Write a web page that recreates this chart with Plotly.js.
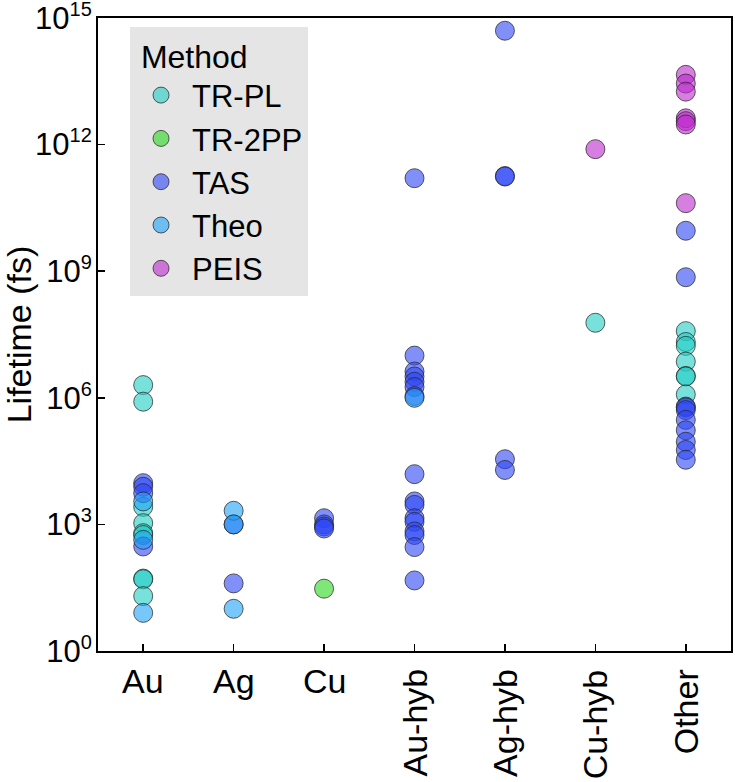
<!DOCTYPE html>
<html>
<head>
<meta charset="utf-8">
<script src="https://cdn.plot.ly/plotly-3.0.1.min.js"></script>
<style>html,body{margin:0;padding:0;background:#fff;}#chart{width:735px;height:782px;}</style>
</head>
<body>
<div id="chart"></div>
<script>
// Categories (x axis)
const categories = ["Au", "Ag", "Cu", "Au-hyb", "Ag-hyb", "Cu-hyb", "Other"];
const rotatedLabels = ["Au-hyb", "Ag-hyb", "Cu-hyb", "Other"];

// Lifetime (fs) per method
const trplX = ["Au","Au","Au","Au","Au","Au","Au","Au","Au","Cu-hyb","Other","Other","Other","Other","Other","Other","Other"];
const trplY = [2.0e6, 8.1e5, 2.6e3, 1.07e3, 620, 560, 52, 50, 20, 6.0e7, 3.8e7, 2.1e7, 1.7e7, 7.2e6, 3.3e6, 3.2e6, 1.2e6];

const tr2ppX = ["Cu"];
const tr2ppY = [30];

const tasX = ["Au","Au","Au","Au","Ag","Ag","Cu","Cu","Cu","Cu",
  "Au-hyb","Au-hyb","Au-hyb","Au-hyb","Au-hyb","Au-hyb","Au-hyb","Au-hyb","Au-hyb","Au-hyb","Au-hyb","Au-hyb","Au-hyb","Au-hyb","Au-hyb","Au-hyb",
  "Ag-hyb","Ag-hyb","Ag-hyb","Ag-hyb","Ag-hyb",
  "Other","Other","Other","Other","Other","Other","Other","Other","Other","Other"];
const tasY = [9.5e3, 7.8e3, 5.5e3, 300, 1.0e3, 40, 1.4e3, 1.0e3, 890, 800,
  1.6e11, 1.0e7, 4.2e6, 3.2e6, 2.4e6, 1.8e6, 1.1e6, 1.55e4, 3.5e3, 2.9e3, 1.4e3, 1.15e3, 680, 560, 290, 47,
  5.0e14, 1.8e11, 1.75e11, 3.5e4, 1.95e4,
  9.1e9, 7.2e8, 6.2e5, 5.9e5, 5.1e5, 3.0e5, 1.7e5, 9.1e4, 5.8e4, 3.4e4];

const theoX = ["Au","Au","Au","Ag","Ag","Ag","Au-hyb"];
const theoY = [3.5e3, 430, 8, 2.1e3, 1.0e3, 10, 1.0e6];

const peisX = ["Cu-hyb","Other","Other","Other","Other","Other","Other","Other"];
const peisY = [7.8e11, 4.5e13, 2.8e13, 1.8e13, 4.2e12, 3.6e12, 3.0e12, 4.1e10];

// Y tick labels
const yTickVals = [1, 1e3, 1e6, 1e9, 1e12, 1e15];
const yTickExp = ["0", "3", "6", "9", "12", "15"];
const yTickText = yTickExp.map(e => "10<sup><span style='font-size:20px'>" + e + "</span></sup>");

const FONT = "Arial, 'Liberation Sans', sans-serif";
const outline = {color: "rgba(40,40,40,0.75)", width: 1};
function series(name, x, y, fill) {
  return {type: "scatter", mode: "markers", name: name, x: x, y: y,
    marker: {size: 19, color: fill, line: outline}, cliponaxis: false};
}
const traces = [
  series("TR-PL", trplX, trplY, "rgba(32,205,197,0.6)"),
  series("TR-2PP", tr2ppX, tr2ppY, "rgba(40,215,30,0.6)"),
  series("TAS", tasX, tasY, "rgba(45,70,245,0.6)"),
  series("Theo", theoX, theoY, "rgba(30,162,247,0.6)"),
  series("PEIS", peisX, peisY, "rgba(188,40,205,0.6)")
];

const annotations = categories.map(c => {
  const rot = rotatedLabels.includes(c);
  return {x: c, xref: "x", y: 0, yref: "paper", yanchor: "top", xanchor: "center",
    yshift: rot ? -16 : -9, text: c, showarrow: false, textangle: rot ? -90 : 0,
    font: {family: FONT, size: 34, color: "#000"}};
});

const layout = {
  width: 735, height: 782,
  margin: {l: 98, r: 4, t: 18, b: 131, pad: 0},
  paper_bgcolor: "#fff", plot_bgcolor: "#fff",
  font: {family: FONT, color: "#000"},
  showlegend: true,
  legend: {x: 0.0506, y: 0.986, xanchor: "left", yanchor: "top",
    bgcolor: "#e5e5e5", borderwidth: 0,
    font: {family: FONT, size: 31, color: "#000"},
    title: {text: "&nbsp;Method", font: {family: FONT, size: 32, color: "#000"}},
    itemwidth: 52, tracegroupgap: 0},
  xaxis: {type: "category", categoryorder: "array", categoryarray: categories,
    range: [-0.5, 6.5], showticklabels: false, ticks: "inside", ticklen: 7, tickwidth: 1.5,
    tickcolor: "#000", showline: true, linecolor: "#000", linewidth: 2, mirror: true,
    showgrid: false, zeroline: false},
  yaxis: {type: "log", range: [-0.0005, 15.0005], tickvals: yTickVals, ticktext: yTickText,
    ticks: "inside", ticklen: 7, tickwidth: 1.5, tickcolor: "#000",
    showline: true, linecolor: "#000", linewidth: 2, mirror: true,
    showgrid: false, zeroline: false, ticklabelstandoff: -2, ticklabeloverflow: "allow",
    tickfont: {family: FONT, size: 31, color: "#000"},
    title: {text: "Lifetime (fs)", standoff: 13, font: {family: FONT, size: 34, color: "#000"}}},
  annotations: annotations
};

Plotly.newPlot("chart", traces, layout, {displayModeBar: false, staticPlot: true});
</script>
</body>
</html>
